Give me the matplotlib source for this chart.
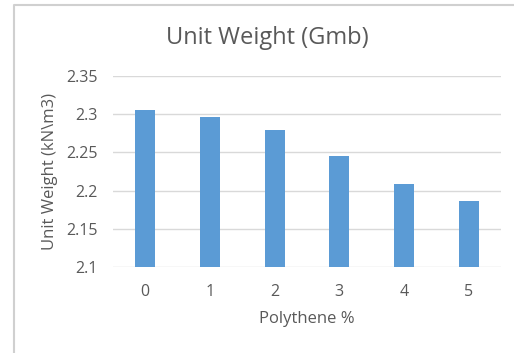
import numpy as np
from matplotlib import pyplot as plt
from matplotlib.lines import Line2D

# data
polythene = ["0", "1", "2", "3", "4", "5"]
unit_weight = [2.305, 2.296, 2.279, 2.245, 2.209, 2.186]
y_ticks = [2.1, 2.15, 2.2, 2.25, 2.3, 2.35]
y_tick_labels = ["2.1", "2.15", "2.2", "2.25", "2.3", "2.35"]

plt.rcParams['font.family'] = ['Open Sans', 'DejaVu Sans']
text_color = "#595959"

fig = plt.figure(figsize=(5.14, 3.53), dpi=100)
ax = fig.add_axes([0.2198, 0.2428, 0.7549, 0.5428])

# chart area border (light gray frame, cut off at right and bottom)
bx = 13.5 / 514
by = 1 - 5 / 353
fig.lines.append(Line2D([bx, bx, 1.0], [0.0, by, by], transform=fig.transFigure,
                        color="#D0D0D0", linewidth=1.5))

x = np.arange(len(polythene))
ax.bar(x, unit_weight, width=0.31, color="#5B9BD5", zorder=3)

ax.set_xlim(-0.5, len(polythene) - 0.5)
ax.set_ylim(2.1, 2.35)
ax.set_yticks(y_ticks)
ax.set_yticklabels(y_tick_labels)
ax.set_xticks(x)
ax.set_xticklabels(polythene)
ax.yaxis.grid(True, color="#D9D9D9", linewidth=1.0, zorder=0)
ax.set_axisbelow(True)
for s in ax.spines.values():
    s.set_visible(False)
ax.tick_params(axis="both", length=0, colors=text_color, labelsize=11.5)
ax.tick_params(axis="y", pad=11)
ax.tick_params(axis="x", pad=12)

ax.set_xlabel("Polythene %", color=text_color, fontsize=12, labelpad=8)
ax.set_ylabel("Unit Weight (kN\\m3)", color=text_color, fontsize=12, labelpad=6)
fig.text(0.52, 0.892, "Unit Weight (Gmb)", ha="center", va="center",
         color=text_color, fontsize=17)

plt.savefig("out.png", dpi=100)
